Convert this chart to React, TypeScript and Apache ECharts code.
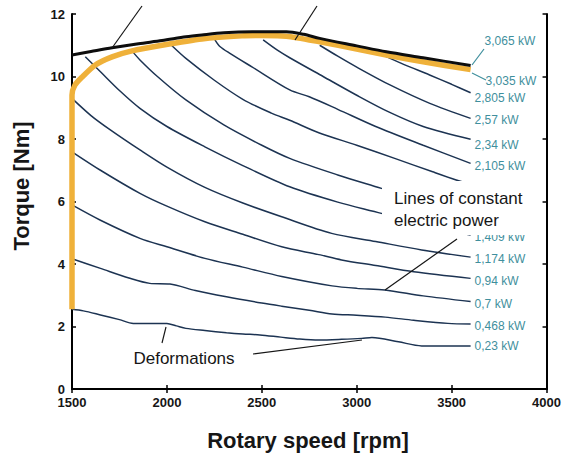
import React, { useEffect, useRef } from "react";
import * as echarts from "echarts";

// ---------- data ----------
const xTicks = [1500, 2000, 2500, 3000, 3500, 4000];
const yTicks = [0, 2, 4, 6, 8, 10, 12];

// labels of the constant-power lines; the 1,64 and 1,875 kW labels are hidden behind the annotation box in the reference
const powerLabels = [
  "0,23 kW", "0,468 kW", "0,7 kW", "0,94 kW", "1,174 kW", "1,409 kW",
  "", "", "2,105 kW", "2,34 kW", "2,57 kW", "2,805 kW",
];

const p023 = [[1500,2.55],[1560,2.5],[1650,2.37],[1750,2.22],[1823,2.1],[1900,2.1],[2000,2.1],[2050,2.02],[2100,1.94],[2200,1.87],[2314,1.8],[2400,1.76],[2490,1.73],[2600,1.66],[2700,1.6],[2800,1.57],[2920,1.59],[3026,1.62],[3080,1.65],[3220,1.51],[3342,1.38],[3600,1.38]];
const p0468 = [[1500,4.17],[1650,3.86],[1800,3.55],[1910,3.38],[2016,3.36],[2150,3.15],[2314,2.95],[2500,2.75],[2605,2.65],[2750,2.52],[2870,2.4],[3000,2.36],[3150,2.3],[3300,2.2],[3480,2.1],[3600,2.08]];
const p07 = [[1500,5.89],[1650,5.4],[1858,4.82],[2000,4.55],[2200,4.18],[2400,3.9],[2605,3.6],[2870,3.3],[3000,3.22],[3147,3.17],[3350,2.98],[3600,2.8]];
const p094 = [[1500,7.59],[1650,7.0],[1858,6.26],[2000,5.85],[2200,5.35],[2400,4.95],[2605,4.55],[2800,4.3],[2920,4.13],[3100,3.95],[3300,3.75],[3600,3.54]];
const p1174 = [[1500,9.3],[1600,8.75],[1700,8.3],[1858,7.65],[2000,7.1],[2200,6.45],[2400,5.95],[2605,5.51],[2868,4.98],[3100,4.72],[3342,4.45],[3600,4.22]];
const p1409 = [[1570,10.63],[1650,10.15],[1750,9.55],[1858,8.98],[2000,8.4],[2200,7.75],[2400,7.15],[2647,6.47],[2900,5.98],[3130,5.62],[3350,5.25],[3600,4.93]];
const p164 = [[1816,10.82],[1858,10.53],[1950,10.0],[2100,9.25],[2300,8.45],[2500,7.8],[2647,7.38],[2900,6.85],[3130,6.42],[3350,6.0],[3600,5.58]];
const p1875 = [[2024,11.0],[2100,10.58],[2250,9.88],[2400,9.27],[2550,8.83],[2647,8.6],[2800,8.2],[3000,7.8],[3200,7.38],[3400,6.95],[3524,6.69],[3600,6.55]];
const p2105 = [[2253,11.17],[2279,10.96],[2332,10.74],[2450,10.3],[2647,9.57],[2750,9.35],[2900,8.95],[3100,8.4],[3350,7.8],[3600,7.22]];
const p234 = [[2507,11.17],[2580,10.85],[2647,10.6],[2823,10.0],[3000,9.4],[3174,8.85],[3350,8.4],[3600,7.99]];
const p257 = [[2805,11.0],[2900,10.65],[3000,10.3],[3175,9.73],[3385,9.14],[3600,8.66]];
const p2805 = [[3150,10.65],[3250,10.38],[3384,10.05],[3500,9.75],[3600,9.48]];

const orangeLimit = [[1500,2.55],[1500,9.41],[1515,9.72],[1553,9.98],[1623,10.37],[1711,10.63],[1816,10.82],[1974,11.0],[2184,11.2],[2395,11.3],[2500,11.31],[2630,11.29],[2805,11.11],[3000,10.88],[3156,10.69],[3350,10.47],[3600,10.22]];
const blackLimit = [[1500,10.69],[1600,10.8],[1711,10.92],[1850,11.05],[1974,11.15],[2100,11.27],[2184,11.33],[2300,11.4],[2450,11.43],[2630,11.43],[2720,11.35],[2805,11.22],[3000,10.98],[3156,10.79],[3350,10.6],[3600,10.35]];

const powerCurves = [p023, p0468, p07, p094, p1174, p1409, p164, p1875, p2105, p234, p257, p2805];
// label vertical offsets (style, not data)
const labelDy = [0, 2, 2.6, 2.7, 1.6, 2, 2, 3, 2.4, 6, 1.7, 5.6];

// ---------- style ----------
const FONT = "'Liberation Sans', Arial, Helvetica, sans-serif";
const TEAL = "#3f8f9d";
const NAVY = "#1c3352";
const ORANGE = "#efb13a";
const INK = "#161616";

function buildOption(): any {
  const powerSeries = powerCurves.map((d, i) => ({
    type: "line",
    name: powerLabels[i] || `line${i}`,
    data: d,
    smooth: 0.3,
    symbol: "none",
    clip: false,
    z: 2,
    lineStyle: { color: NAVY, width: 1.5 },
    endLabel: {
      show: powerLabels[i] !== "",
      formatter: powerLabels[i],
      color: TEAL,
      fontSize: 12,
      fontFamily: FONT,
      distance: 4,
      offset: [0, labelDy[i]],
    },
  }));

  const axisCommon = {
    type: "value",
    splitLine: { show: false },
    axisLine: { show: true, lineStyle: { color: "#000", width: 2 } },
    axisTick: { show: true, inside: true, length: 4, lineStyle: { color: "#000", width: 1.5 } },
  };

  return {
    animation: false,
    backgroundColor: "#ffffff",
    grid: { left: 72, right: 17, top: 14, bottom: 67, containLabel: false },
    xAxis: [
      {
        ...axisCommon,
        position: "bottom",
        min: xTicks[0],
        max: xTicks[xTicks.length - 1],
        interval: 500,
        axisLabel: {
          color: INK, fontSize: 13, fontWeight: "bold", fontFamily: FONT, margin: 7,
          formatter: (v: number) => String(v),
        },
      },
      {
        ...axisCommon,
        position: "top",
        min: xTicks[0],
        max: xTicks[xTicks.length - 1],
        interval: 500,
        axisLabel: { show: false },
      },
    ],
    yAxis: [
      {
        ...axisCommon,
        position: "left",
        min: yTicks[0],
        max: yTicks[yTicks.length - 1],
        interval: 2,
        axisLabel: {
          color: INK, fontSize: 13, fontWeight: "bold", fontFamily: FONT, margin: 7,
          formatter: (v: number) => String(v),
        },
      },
      {
        ...axisCommon,
        position: "right",
        min: yTicks[0],
        max: yTicks[yTicks.length - 1],
        interval: 2,
        axisLabel: { show: false },
      },
    ],
    series: [
      ...powerSeries,
      {
        type: "line",
        name: "3,035 kW",
        data: orangeLimit,
        smooth: 0.25,
        symbol: "none",
        clip: false,
        z: 3,
        lineStyle: { color: ORANGE, width: 5.5 },
        endLabel: {
          show: true,
          formatter: "3,035 kW",
          color: TEAL,
          fontSize: 12,
          fontFamily: FONT,
          distance: 15,
          offset: [0, 11],
        },
      },
      {
        type: "line",
        name: "3,065 kW",
        data: blackLimit,
        smooth: 0.3,
        symbol: "none",
        clip: false,
        z: 4,
        lineStyle: { color: "#0d0d0d", width: 3 },
        endLabel: {
          show: true,
          formatter: "3,065 kW",
          color: TEAL,
          fontSize: 12,
          fontFamily: FONT,
          distance: 14,
          offset: [0, -25],
        },
      },
    ],
    graphic: [
      // axis titles
      {
        type: "text",
        x: 21,
        y: 186,
        rotation: Math.PI / 2,
        z: 100,
        style: { text: "Torque [Nm]", font: `bold 22px ${FONT}`, fill: INK, align: "center", verticalAlign: "middle" },
      },
      {
        type: "text",
        x: 308,
        y: 440,
        z: 100,
        style: { text: "Rotary speed [rpm]", font: `bold 22px ${FONT}`, fill: INK, align: "center", verticalAlign: "middle" },
      },
      // annotation box
      {
        type: "rect",
        z: 100,
        shape: { x: 382, y: 181, width: 160, height: 54 },
        style: { fill: "#ffffff", stroke: null },
      },
      {
        type: "text",
        x: 394,
        y: 198,
        z: 101,
        style: { text: "Lines of constant", font: `17px ${FONT}`, fill: INK, align: "left", verticalAlign: "middle" },
      },
      {
        type: "text",
        x: 394,
        y: 220,
        z: 101,
        style: { text: "electric power", font: `17px ${FONT}`, fill: INK, align: "left", verticalAlign: "middle" },
      },
      {
        type: "line",
        z: 101,
        shape: { x1: 457, y1: 239, x2: 385, y2: 290 },
        style: { stroke: INK, lineWidth: 1.2 },
      },
      // deformations
      {
        type: "text",
        x: 184,
        y: 358,
        z: 100,
        style: { text: "Deformations", font: `17px ${FONT}`, fill: INK, align: "center", verticalAlign: "middle" },
      },
      {
        type: "line",
        z: 100,
        shape: { x1: 166, y1: 327, x2: 162, y2: 343 },
        style: { stroke: INK, lineWidth: 1.2 },
      },
      {
        type: "line",
        z: 100,
        shape: { x1: 253, y1: 354, x2: 362, y2: 340 },
        style: { stroke: INK, lineWidth: 1.2 },
      },
      // top leader lines
      {
        type: "line",
        z: 100,
        shape: { x1: 142, y1: 6, x2: 112, y2: 48 },
        style: { stroke: INK, lineWidth: 1.2 },
      },
      {
        type: "line",
        z: 100,
        shape: { x1: 317, y1: 6, x2: 295, y2: 40 },
        style: { stroke: INK, lineWidth: 1.2 },
      },
      // teal leaders for top labels
      {
        type: "line",
        z: 100,
        shape: { x1: 472, y1: 65, x2: 484, y2: 49 },
        style: { stroke: TEAL, lineWidth: 1.2 },
      },
      {
        type: "line",
        z: 100,
        shape: { x1: 472, y1: 73, x2: 486, y2: 80 },
        style: { stroke: TEAL, lineWidth: 1.2 },
      },
    ],
  };
}

export default function App() {
  const ref = useRef<HTMLDivElement>(null);
  useEffect(() => {
    document.body.style.margin = "0";
    const chart = echarts.init(ref.current as HTMLDivElement, undefined, { renderer: "svg" });
    chart.setOption(buildOption());
    return () => chart.dispose();
  }, []);
  return <div ref={ref} style={{ width: 564, height: 456 }} />;
}
